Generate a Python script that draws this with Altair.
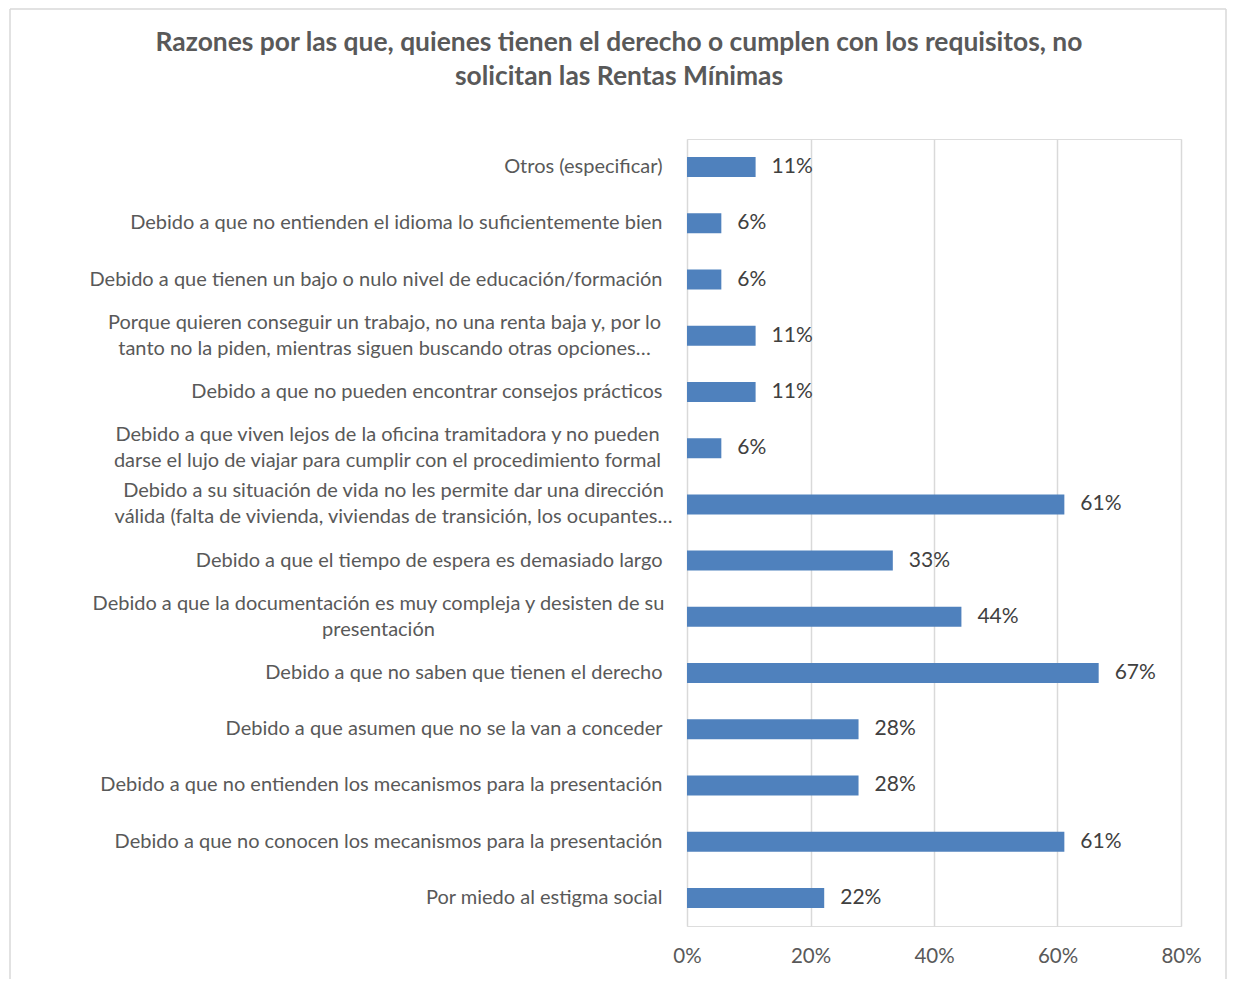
import altair as alt
import pandas as pd

title_lines = [
    "Razones por las que, quienes tienen el derecho o cumplen con los requisitos, no",
    "solicitan las Rentas Mínimas",
]

categories = [
    "Otros (especificar)",
    "Debido a que no entienden el idioma lo suficientemente bien",
    "Debido a que tienen un bajo o nulo nivel de educación/formación",
    "Porque quieren conseguir un trabajo, no una renta baja y, por lo|tanto no la piden, mientras siguen  buscando otras opciones…",
    "Debido a que no pueden encontrar consejos prácticos",
    "Debido a que viven lejos de la oficina tramitadora y no pueden|darse el lujo de viajar para cumplir con el procedimiento formal",
    "Debido a su situación de vida no les permite dar una dirección|válida (falta de vivienda, viviendas de transición, los ocupantes…",
    "Debido a que el tiempo de espera es demasiado largo",
    "Debido a que la documentación es muy compleja y desisten de su|presentación",
    "Debido a que no saben que tienen el derecho",
    "Debido a que asumen que no se la van a conceder",
    "Debido a que no entienden los mecanismos para la presentación",
    "Debido a que no conocen los mecanismos para la presentación",
    "Por miedo al estigma social",
]

values = [0.1111, 0.0556, 0.0556, 0.1111, 0.1111, 0.0556, 0.6111,
          0.3333, 0.4444, 0.6667, 0.2778, 0.2778, 0.6111, 0.2222]

x_ticks = [0, 0.2, 0.4, 0.6, 0.8]

df = pd.DataFrame({"cat": categories, "value": values})

FONT = "Lato"
GRAY = "#595959"

label_pad = {
    "condition": [
        {"test": "indexof(datum.value, 'Porque') === 0", "value": 303},
        {"test": "indexof(datum.value, 'Debido a que viven') === 0", "value": 300},
        {"test": "indexof(datum.value, 'Debido a su') === 0", "value": 294},
        {"test": "indexof(datum.value, 'Debido a que la doc') === 0", "value": 309},
    ],
    "value": 25,
}
label_align = {
    "condition": {"test": "indexof(datum.value, '|') >= 0", "value": "center"},
    "value": "right",
}
label_offset = {
    "condition": {"test": "indexof(datum.value, '|') >= 0", "value": -13},
    "value": 0,
}

base = alt.Chart(df)

y_enc = alt.Y(
    "cat:N",
    sort=categories,
    scale=alt.Scale(paddingInner=0, paddingOuter=0),
    axis=alt.Axis(
        title=None,
        domain=False,
        ticks=False,
        labelExpr="split(datum.label, '|')",
        labelFont=FONT,
        labelFontSize=20,
        labelColor=GRAY,
        labelLineHeight=26,
        labelLimit=800,
        labelBaseline="middle",
        labelPadding=label_pad,
        labelAlign=label_align,
        labelOffset=label_offset,
    ),
)

x_enc = alt.X(
    "value:Q",
    scale=alt.Scale(domain=[0, 0.8], nice=False),
    axis=alt.Axis(
        title=None,
        values=x_ticks,
        format=".0%",
        domain=False,
        ticks=False,
        grid=True,
        gridColor="#d9d9d9",
        gridWidth=1.5,
        labelFont=FONT,
        labelFontSize=20.5,
        labelColor=GRAY,
        labelPadding=20,
        labelFlush=False,
    ),
)

bars = base.mark_bar(color="#4f81bd", size=20).encode(x=x_enc, y=y_enc)

texts = base.mark_text(align="left", baseline="middle", dx=16, font=FONT,
                       fontSize=21, color="#404040").encode(
    x="value:Q", y=alt.Y("cat:N", sort=categories),
    text=alt.Text("value:Q", format=".0%"),
)

frame_df = pd.DataFrame({"k": [0]})
frame = alt.Chart(frame_df)
left_line = frame.mark_rule(color="#d9d9d9", strokeWidth=1.5).encode(
    x=alt.value(-677), y=alt.value(-130), y2=alt.value(840))
top_line = frame.mark_rule(color="#d9d9d9", strokeWidth=1.5).encode(
    x=alt.value(-677), x2=alt.value(539), y=alt.value(-130))
right_line = frame.mark_rule(color="#d9d9d9", strokeWidth=1.5).encode(
    x=alt.value(539), y=alt.value(-130), y2=alt.value(840))

title = frame.mark_text(
    text=title_lines, font=FONT, fontSize=26.4, fontWeight="bold", color=GRAY,
    align="center", baseline="alphabetic", lineHeight=34,
).encode(x=alt.value(-68), y=alt.value(-88))

chart = alt.layer(left_line, top_line, right_line, title, bars, texts).properties(
    width=494,
    height=787,
    padding={"left": 679, "top": 131, "right": 46, "bottom": 55},
    autosize=alt.AutoSizeParams(type="none"),
).configure_view(stroke=None).configure(background="white")

chart.save("out.html", embed_options={"renderer": "svg", "actions": False})
